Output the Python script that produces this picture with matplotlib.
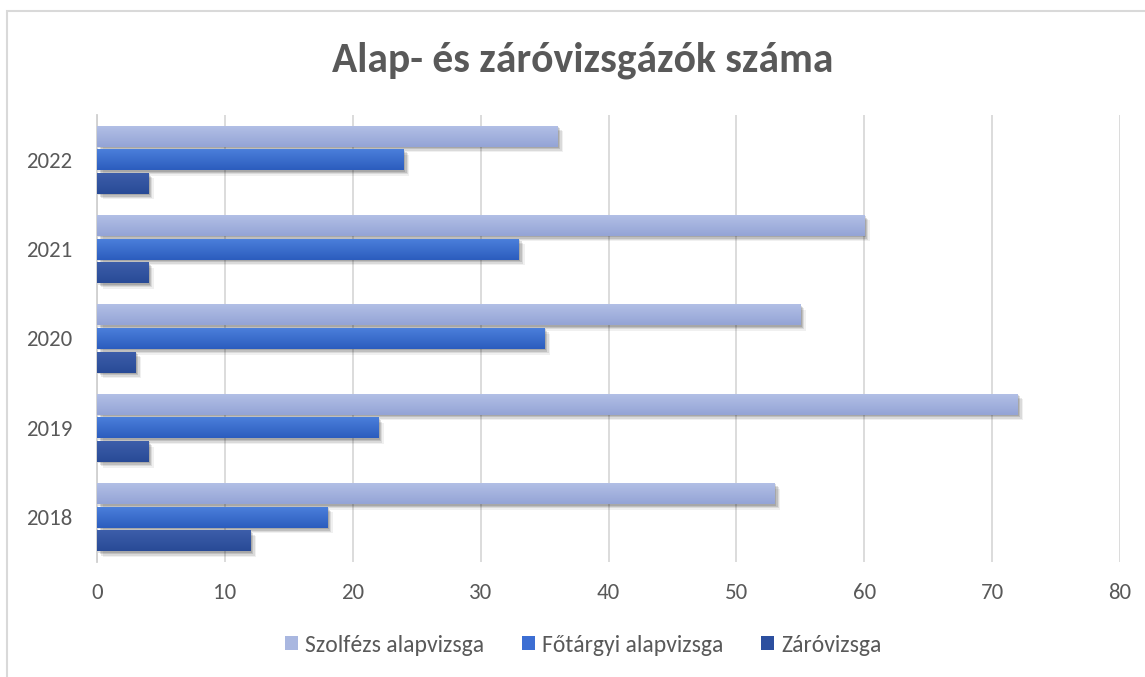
import numpy as np
import matplotlib
matplotlib.use("Agg")
import matplotlib.pyplot as plt
from matplotlib import patheffects as pe
from matplotlib.patches import Rectangle
from matplotlib.colors import LinearSegmentedColormap

years = ["2018", "2019", "2020", "2021", "2022"]
szolfezs = [53, 72, 55, 60, 36]
fotargyi = [18, 22, 35, 33, 24]
zarovizsga = [12, 4, 3, 4, 4]

series = [
    ("Szolfézs alapvizsga", szolfezs, "#A9B7E0", ("#B3C0E6", "#94A4D6")),
    ("Főtárgyi alapvizsga", fotargyi, "#3C6ED3", ("#4C80DC", "#2C5DBE")),
    ("Záróvizsga", zarovizsga, "#2C4F9F", ("#3E5FAB", "#284A96")),
]

plt.rcParams['font.family'] = ['Carlito', 'Lato', 'DejaVu Sans']
grey = "#595959"

fig = plt.figure(figsize=(11.45, 6.77), dpi=100)
ax = fig.add_axes([97 / 1145, 1 - 562 / 677, (1120 - 97) / 1145, (562 - 115) / 677])

# chart border (cut off at right and bottom)
fig.patches.append(Rectangle((7 / 1145, -0.05), 1.1, 1 - 11 / 677 + 0.05,
                             transform=fig.transFigure, fill=False,
                             edgecolor="#D9D9D9", linewidth=1.5))

y = np.arange(len(years))
h = 0.235
offsets = [0.265, 0, -0.265]
# soft drop shadow built from a few faint layers
shadow = [pe.SimplePatchShadow(offset=(d, -d), shadow_rgbFace="black", alpha=a)
          for d, a in [(4, 0.06), (3, 0.09), (2, 0.12), (1, 0.12)]] + [pe.Normal()]

for (name, vals, col, grad), off in zip(series, offsets):
    bars = ax.barh(y + off, vals, height=h, color=col, label=name, zorder=3,
                   path_effects=shadow)
    cmap = LinearSegmentedColormap.from_list(name, [grad[1], grad[0]])
    for b in bars:
        x0, y0 = b.get_x(), b.get_y()
        im = ax.imshow(np.linspace(0, 1, 50).reshape(-1, 1), cmap=cmap, aspect="auto",
                       origin="lower", extent=(x0, x0 + b.get_width(), y0, y0 + b.get_height()),
                       zorder=4)
        im.set_clip_path(b)

ax.set_xlim(0, 80)
ax.set_ylim(-0.5, 4.5)
ax.set_xticks(range(0, 81, 10))
ax.set_yticks(y)
ax.set_yticklabels(years)
ax.tick_params(axis="both", length=0, labelsize=16.5, colors=grey)
ax.tick_params(axis="x", pad=15)
ax.tick_params(axis="y", pad=18)
ax.grid(axis="x", color="#D9D9D9", linewidth=1.3, zorder=0)
ax.set_axisbelow(True)
for s in ["top", "right", "bottom"]:
    ax.spines[s].set_visible(False)
ax.spines["left"].set_color("#D0D0D0")
ax.spines["left"].set_linewidth(1.3)

fig.text(0.509, 0.911, "Alap- és záróvizsgázók száma", ha="center", va="center",
         fontsize=30, fontweight="bold", color=grey)

leg = ax.legend(loc="center", bbox_to_anchor=(583 / 1145, 1 - 645 / 677),
                bbox_transform=fig.transFigure, ncol=3, frameon=False, fontsize=17,
                handlelength=0.55, handleheight=0.55, handletextpad=0.3, columnspacing=1.6)
for t in leg.get_texts():
    t.set_color(grey)
for hdl in leg.legend_handles:
    hdl.set_path_effects([])

fig.savefig("out.png", dpi=100)
